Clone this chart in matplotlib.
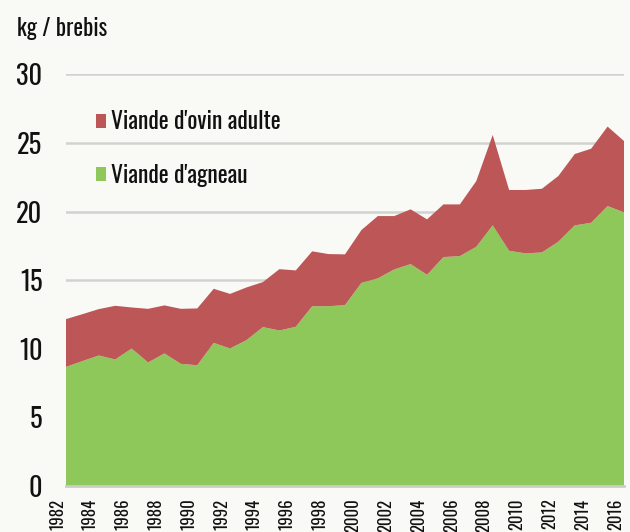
import matplotlib
matplotlib.use("Agg")
import matplotlib.pyplot as plt

years = list(range(1982, 2017))
agneau = [8.68, 9.10, 9.51, 9.22, 10.02, 9.00, 9.66, 8.90, 8.80, 10.43,
          10.02, 10.63, 11.58, 11.33, 11.60, 13.10, 13.10, 13.18, 14.80, 15.13,
          15.78, 16.17, 15.39, 16.68, 16.75, 17.43, 18.99, 17.14, 16.95, 17.02,
          17.80, 18.99, 19.18, 20.40, 19.94]
ovin_adulte = [3.48, 3.42, 3.38, 3.91, 2.99, 3.91, 3.50, 4.01, 4.14, 3.94,
               3.98, 3.84, 3.28, 4.47, 4.11, 4.00, 3.80, 3.70, 3.85, 4.54,
               3.89, 3.99, 4.04, 3.84, 3.77, 4.79, 6.59, 4.43, 4.62, 4.64,
               4.79, 5.20, 5.40, 5.79, 5.20]
series_labels = ["Viande d'agneau", "Viande d'ovin adulte"]
y_label = "kg / brebis"
y_ticks = [0, 5, 10, 15, 20, 25, 30]
x_ticks = list(range(1982, 2017, 2))

plt.rcParams['font.family'] = ['Oswald', 'DejaVu Sans']

bg = '#f9f9f5'
green = '#8fc85a'
red = '#bd5757'
ink = '#111111'

fig = plt.figure(figsize=(6.3, 5.32), dpi=100, facecolor=bg)
ax = fig.add_axes([66/630, 1-486/532, (624-66)/630, (486-74.3)/532])
ax.set_facecolor(bg)

polys = ax.stackplot(years, agneau, ovin_adulte, colors=[green, red],
                     labels=series_labels, linewidth=0, zorder=2)

ax.set_xlim(1982, 2016)
ax.set_ylim(0, 30)
ax.set_yticks(y_ticks)
ax.set_yticklabels([str(t) for t in y_ticks], fontsize=19, color=ink)
ax.set_xticks(x_ticks)
ax.set_xticklabels([str(t) for t in x_ticks], rotation=90, fontsize=12,
                   color=ink, ha='right', va='top')
ax.tick_params(axis='both', length=0)
ax.tick_params(axis='y', pad=17)
ax.tick_params(axis='x', pad=9)

ax.grid(axis='y', color='#d2d2d2', linewidth=1.8, zorder=1)
ax.grid(axis='x', visible=False)
for s in ['top', 'right', 'left']:
    ax.spines[s].set_visible(False)
ax.spines['bottom'].set_color('#cccccc')
ax.spines['bottom'].set_linewidth(2)
ax.spines['bottom'].set_zorder(3)

fig.text(17/630, 1-29/532, y_label, fontsize=16.5, color=ink,
         ha='left', va='center')

handles = [polys[1], polys[0]]
labels = [series_labels[1], series_labels[0]]
leg = ax.legend(handles, labels, loc='upper left',
                bbox_to_anchor=((96-66)/(624-66), 1 - (110-74.3)/(486-74.3)),
                frameon=False, fontsize=17, handlelength=0.42, handleheight=0.55,
                handletextpad=0.2, labelspacing=1.3, borderaxespad=0,
                borderpad=0)
for t in leg.get_texts():
    t.set_color(ink)

fig.savefig('out.png', dpi=100, facecolor=bg)
